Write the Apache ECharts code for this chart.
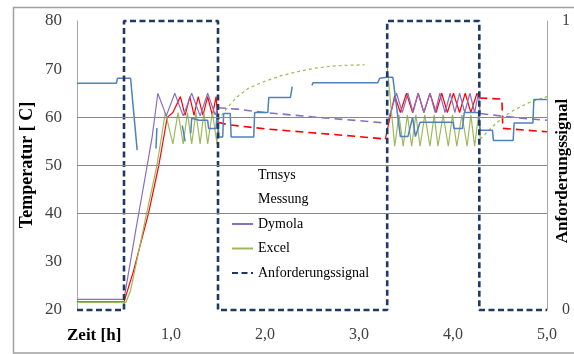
<!DOCTYPE html>
<html><head><meta charset="utf-8">
<script src="https://cdn.jsdelivr.net/npm/echarts@6/dist/echarts.min.js"></script>
<style>html,body{margin:0;padding:0;background:#fff}#c{width:574px;height:354px}</style>
</head><body><div id="c"></div>
<script>
// x = time [h], y = temperature [°C]; '-' marks a gap
const trnsysSolid = [[0,21.7],[0.5,21.7],[0.6,28],[0.76,40],[0.87,50],[0.96,60],[1.02,61],[1.1,64.3],[1.15,60.4],[1.2,64.3],[1.245,60.4],[1.29,64.3],[1.34,60.4],[1.39,64.3],[1.44,60.4],[1.48,64.3],[1.5,59],['-','-'],
  [3.28,55.5],[3.38,64.5],[3.44,61],[3.505,65],[3.57,61],[3.63,65],[3.69,61],[3.755,65],[3.82,61],[3.88,65],[3.94,61],[4.005,65],[4.07,61],[4.13,65],[4.19,61],[4.255,65],[4.28,64]];
const trnsysDashed = [[1.5,59],[1.6,58.5],[2.0,57.6],[2.5,56.8],[3.0,56],[3.28,55.5],['-','-'],[4.28,64],[4.52,63.8],[4.53,57.7],[5.0,57]];
const messung = [[0,67.1],[0.42,67.1],[0.43,68.1],[0.57,68.1],[0.64,53.2],['-','-'],[0.84,53.5],[0.85,57.8],['-','-'],[1.12,58.3],[1.15,55],['-','-'],
  [1.21,56.7],[1.22,59.8],[1.3,59.4],[1.39,59.4],[1.4,57.7],[1.48,57.7],[1.49,61],[1.5,61],[1.51,55.9],[1.55,55.9],[1.56,60.8],[1.63,60.8],[1.64,55.9],[1.88,55.9],[1.89,61],[2.03,61],[2.04,64.1],[2.27,64.1],[2.29,66.4],['-','-'],
  [2.5,66.6],[2.51,67.2],[3.2,67.2],[3.22,68.1],[3.3,68.3],[3.36,68.3],[3.44,56],[3.52,56],[3.57,60],[3.6,56],[3.65,59],[4.0,59],[4.01,57.7],[4.1,57.7],[4.12,61],[4.27,61],[4.29,57.3],[4.42,57.3],[4.43,55.2],[4.64,55.2],[4.65,58.8],[4.85,58.8],[4.86,63.7],[5.0,63.7]];
const dymolaSolid = [[0,22.2],[0.5,22.2],[0.62,36],[0.72,47],[0.8,56],[0.86,65],[0.95,60.3],[1.04,65],[1.13,60.3],[1.22,65],[1.31,60.3],[1.39,65],[1.47,60.5],[1.5,62],['-','-'],
  [3.3,58.8],[3.4,65],[3.46,61],[3.52,65],[3.575,61],[3.63,65],[3.69,61],[3.755,65],[3.81,61],[3.86,65],[3.915,61],[3.97,65],[4.02,61],[4.07,65],[4.125,61],[4.18,65],[4.23,61],[4.27,65],[4.29,60.8]];
const dymolaDashed = [[1.5,62],[1.7,61.7],[2.0,61],[2.5,60.1],[3.0,59.3],[3.3,58.8],['-','-'],[4.29,60.8],[4.5,60.3],[4.8,59.7],[5.0,59.4]];
const excelSolid = [[0,21.6],[0.52,21.6],[0.57,24],[0.74,40],[0.85,50],[0.94,61],[1.02,54.5],[1.075,61],[1.13,54.5],[1.175,61],[1.22,54.5],[1.265,61],[1.31,54.5],[1.35,61],[1.39,54.5],[1.44,61],[1.49,54.5],[1.5,59.4],['-','-'],
  [3.3,70.5],[3.38,54],[3.425,60.5],[3.47,54],[3.515,60.5],[3.56,54],[3.605,60.5],[3.65,54],[3.70,60.5],[3.755,54],[3.80,60.5],[3.84,54],[3.895,60.5],[3.95,54],[3.995,60.5],[4.04,54],[4.095,60.5],[4.15,54],[4.19,60.5],[4.23,54],[4.275,61],[4.29,55.5]];
const excelDashed = [[1.5,59.4],[1.6,62],[1.7,64.2],[1.82,66],[2.0,67.5],[2.18,68.7],[2.35,69.5],[2.53,70.2],[2.7,70.6],[2.85,70.8],[3.06,70.9],['-','-'],[4.29,55.5],[4.4,57.7],[4.53,60],[4.65,61.5],[4.8,63],[5.0,64.3]];
const signal = [[0,0],[0.5,0],[0.5,1],[1.5,1],[1.5,0],[3.3,0],[3.3,1],[4.28,1],[4.28,0],[5,0]];
const gridValues = [40,50,60];
const xTickLabels = {1:'1,0',2:'2,0',3:'3,0',4:'4,0',5:'5,0'};
const rightTickLabels = {0:'0',1:'1'};

const SERIF = '"Liberation Serif","DejaVu Serif",serif';
const C = {trnsys:'#FF0000', messung:'#4F81BD', dymola:'#8A6FC0', excel:'#9BBB59', signal:'#1F3864'};
function line(name, data, color, type, width, extra) {
  return Object.assign({name, type:'line', data, symbol:'none', showSymbol:false, connectNulls:false,
    lineStyle:{color, width, type}, itemStyle:{color}, animation:false}, extra||{});
}
const hidden = {itemStyle:{opacity:0}, lineStyle:{opacity:0}};
const chart = echarts.init(document.getElementById('c'), null, {renderer:'canvas'});
chart.setOption({
  animation:false,
  grid:{left:77, right:27, top:21, bottom:44},
  xAxis:{type:'value', min:0, max:5, interval:1,
    axisLine:{show:false}, axisTick:{show:false}, splitLine:{show:false},
    axisLabel:{margin:17, color:'#404040', fontFamily:SERIF, fontSize:16, formatter:v=>xTickLabels[v]||''}},
  yAxis:[
    {type:'value', min:20, max:80, interval:10,
      axisLine:{show:true, lineStyle:{color:'#A6A6A6', width:1}}, axisTick:{show:false}, splitLine:{show:false},
      axisLabel:{margin:15, color:'#404040', fontFamily:SERIF, fontSize:17}},
    {type:'value', min:0, max:1, interval:1, position:'right',
      axisLine:{show:true, lineStyle:{color:'#A6A6A6', width:1}}, axisTick:{show:false}, splitLine:{show:false},
      axisLabel:{margin:15, color:'#404040', fontFamily:SERIF, fontSize:16, formatter:v=>rightTickLabels[v]||''}}
  ],
  legend:{left:228, top:160, orient:'vertical', itemGap:10.5, itemWidth:21, itemHeight:14,
    padding:[8,9,8,3], backgroundColor:'#fff',
    textStyle:{fontFamily:SERIF, fontSize:14, color:'#000'},
    data:[
      Object.assign({name:'Trnsys'}, hidden),
      Object.assign({name:'Messung'}, hidden),
      {name:'Dymola', itemStyle:{opacity:0}},
      {name:'Excel', itemStyle:{opacity:0}},
      {name:'Anforderungssignal', itemStyle:{opacity:0}}]},
  graphic:[
    {type:'rect', shape:{x:13.5, y:7.5, width:600, height:345.5}, style:{fill:'none', stroke:'#A0A0A0', lineWidth:1.5}, silent:true, z:0},
    {type:'text', x:27, y:165, rotation:Math.PI/2, style:{text:'Temperatur [ C]', font:'bold 18px '+SERIF, fill:'#000', textAlign:'center', textVerticalAlign:'middle'}},
    {type:'text', x:563, y:171, rotation:Math.PI/2, style:{text:'Anforderungssignal', font:'bold 17px '+SERIF, fill:'#000', textAlign:'center', textVerticalAlign:'middle'}},
    {type:'text', x:67, y:336, style:{text:'Zeit [h]', font:'bold 17px '+SERIF, fill:'#000', textAlign:'left', textVerticalAlign:'middle'}}
  ],
  series:[
    line('Trnsys', trnsysSolid, C.trnsys, 'solid', 1.2, {markLine:{silent:true, symbol:'none', label:{show:false},
      lineStyle:{color:'#888', width:1, type:'solid'}, data:gridValues.map(v=>({yAxis:v}))}}),
    line('Trnsys ', trnsysDashed, C.trnsys, [8,5], 1.6),
    line('Excel', excelSolid, C.excel, 'solid', 1.2),
    line('Excel ', excelDashed, C.excel, [3,3], 1.2),
    line('Dymola', dymolaSolid, C.dymola, 'solid', 1.2),
    line('Dymola ', dymolaDashed, C.dymola, [8,5], 1.6),
    line('Messung', messung, C.messung, 'solid', 1.5),
    line('Anforderungssignal', signal, C.signal, [6,3.5], 2.6, {yAxisIndex:1, clip:false})
  ]
});
</script></body></html>
